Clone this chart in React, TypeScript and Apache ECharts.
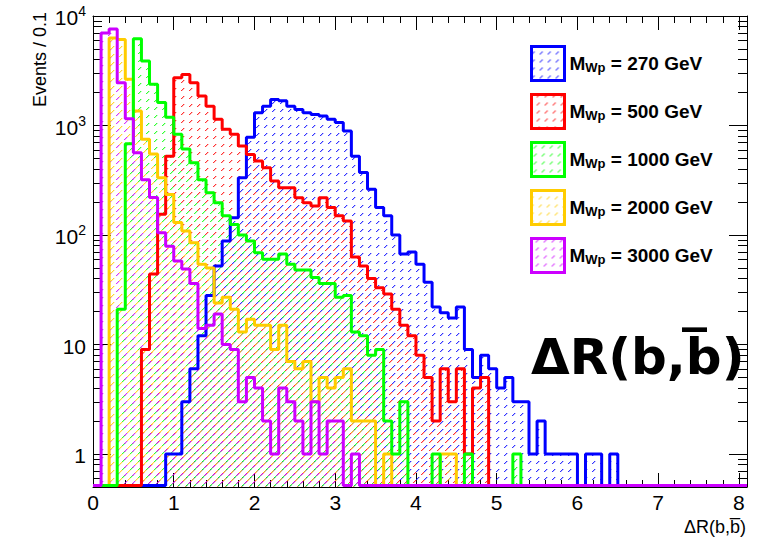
import React, { useEffect, useRef } from 'react';
import * as echarts from 'echarts';

// histogram binning
const BIN_WIDTH = 0.1;
const N_BINS = 81;
const Y_MIN = 0.5;
const Y_MAX = 10000;
const X_MAX = 8.1;

// legend / series labels (M_Wp in GeV)
const masses = ['270', '500', '1000', '2000', '3000'];
const colors = ['#0000ff', '#ff0000', '#00ff00', '#ffcc00', '#cc00ff'];

// events per 0.1 bin, starting at ΔR = 0
const bins270 = [0, 0, 0, 0, 0, 0, 0, 0, 0, 1, 1, 3, 6, 12, 28, 52, 88, 144, 334, 780,
  1310, 1500, 1730, 1680, 1500, 1400, 1310, 1260, 1220, 1140, 1065, 890, 525, 372, 262, 178, 150, 100, 67, 70,
  54, 37, 22, 19.5, 17.5, 22, 9, 5, 8, 6, 4, 5, 3, 3, 1, 2, 1, 1, 1, 1, 0, 1, 1, 0, 1];
const bins500 = [0, 0, 0, 0, 0, 0, 9, 44, 155, 525, 2735, 2930, 2460, 1860, 1500, 1140, 925, 830, 650, 545,
  474, 412, 311, 270, 270, 219, 197, 184, 219, 178, 150, 134, 63, 52, 40, 33, 29, 21, 15, 12,
  8, 5, 2, 6, 3, 6, 1, 4, 5];
const bins1000 = [0, 0, 0, 21, 680, 6200, 3880, 2380, 1620, 1190, 830, 610, 456, 320, 243, 197, 150, 125, 100, 88,
  69, 60, 60, 67, 54, 48, 48, 41, 36, 36, 27, 28, 13, 12, 8, 9, 2, 1, 3, 0,
  0, 0, 1, 0, 0, 0, 1, 0, 0, 0, 0, 0, 1];
const bins2000 = [0, 0, 6300, 6100, 2650, 1360, 750, 550, 334, 235, 130, 109, 85, 54, 50, 24, 27, 21, 13, 17,
  15, 15, 9, 15, 7, 6, 7, 3, 5, 4, 5, 6, 2, 2, 2, 0, 1, 0, 0, 0, 0, 0, 0, 1, 1];
const bins3000 = [0, 7000, 7600, 2460, 1150, 565, 320, 220, 105, 79, 58, 49, 36, 14, 15, 19, 10, 9, 3, 5,
  4, 2, 1, 4, 3, 2, 1, 3, 1, 2, 2, 0, 1];

const allBins = [bins270, bins500, bins1000, bins2000, bins3000];
// drawing order (last on top)
const drawOrder = [0, 1, 3, 2, 4];

const xTickLabels = ['0', '1', '2', '3', '4', '5', '6', '7', '8'];
const yMinorValues = [0.6, 0.7, 0.8, 0.9, 2, 3, 4, 5, 6, 7, 8, 9, 20, 30, 40, 50, 60, 70, 80, 90,
  200, 300, 400, 500, 600, 700, 800, 900, 2000, 3000, 4000, 5000, 6000, 7000, 8000, 9000];

function hexToRgb(hex: string) {
  const n = parseInt(hex.slice(1), 16);
  return [(n >> 16) & 255, (n >> 8) & 255, n & 255];
}

function makeHatch(color: string, shift: number) {
  const c = document.createElement('canvas');
  c.width = 8;
  c.height = 8;
  const ctx = c.getContext('2d')!;
  const [r, g, b] = hexToRgb(color);
  for (let k = 0; k < 8; k++) {
    if ((k + shift) % 8 >= 3) continue;
    ctx.fillStyle = `rgba(${r},${g},${b},0.8)`;
    ctx.fillRect(k, 7 - k, 1, 1);
    ctx.fillStyle = `rgba(${r},${g},${b},0.25)`;
    ctx.fillRect((k + 1) % 8, 7 - k, 1, 1);
  }
  return { image: c.toDataURL(), repeat: 'repeat', imageWidth: 8, imageHeight: 8 } as any;
}

function toSteps(vals: number[]) {
  const floor = Y_MIN * 1.033;
  const pts: [number, number][] = [];
  for (let i = 0; i < N_BINS; i++) {
    const v = i < vals.length ? vals[i] : 0;
    pts.push([+(i * BIN_WIDTH).toFixed(2), v > 0 ? v : floor]);
  }
  const last = pts[pts.length - 1][1];
  pts.push([+(N_BINS * BIN_WIDTH).toFixed(2), last]);
  return pts;
}

const TITLE = 'ΔR(b,b\u0305)';

export default function App() {
  const ref = useRef<HTMLDivElement>(null);
  useEffect(() => {
    if (!ref.current) return;
    const chart = echarts.init(ref.current, undefined, { renderer: 'svg' });
    const patterns = colors.map((c, i) => makeHatch(c, i * 3));
    const seriesName = (i: number) => `MWp = ${masses[i]} GeV`;

    const axisLine = { show: true, onZero: false, lineStyle: { color: '#000', width: 1 } };
    const labelFont = { fontFamily: 'Liberation Sans', color: '#000', fontSize: 21 };

    const xFormatter = (v: number) => {
      const r = Math.round(v);
      return Math.abs(v - r) < 1e-6 && xTickLabels[r] !== undefined ? xTickLabels[r] : '';
    };
    const yFormatter = (v: number) => {
      const l = Math.log10(v);
      const e = Math.round(l);
      if (Math.abs(l - e) > 1e-6) return '';
      if (e === 0) return '{b|1}';
      if (e === 1) return '{b|10}';
      return `{b|10}{s|${e}}`;
    };

    const xBase = {
      type: 'value', min: 0, max: X_MAX, interval: 1,
      axisLine, splitLine: { show: false },
      axisTick: { show: true, inside: true, length: 14, lineStyle: { color: '#000' } },
      minorTick: { show: true, splitNumber: 5, length: 7, lineStyle: { color: '#000' } },
    };
    const yMajor = {
      type: 'log', logBase: 10, min: Y_MIN, max: Y_MAX,
      axisLine, splitLine: { show: false },
      axisTick: { show: true, inside: true, length: 18, lineStyle: { color: '#000' } },
      minorTick: { show: false },
    };
    // minor decade ticks (2..9) on an axis of log10(value)
    const yMinor = {
      type: 'value', min: Math.log10(Y_MIN), max: Math.log10(Y_MAX),
      axisLine: { show: false, onZero: false }, splitLine: { show: false }, axisLabel: { show: false },
      axisTick: { show: true, inside: true, length: 9, lineStyle: { color: '#000' }, customValues: yMinorValues.map((v) => Math.log10(v)) },
    };

    chart.setOption({
      animation: false,
      backgroundColor: '#fff',
      grid: { left: 93, right: 16, top: 16, bottom: 53 },
      xAxis: [
        { ...xBase, position: 'bottom', axisLabel: { ...labelFont, margin: 5, formatter: xFormatter } },
        { ...xBase, position: 'top', axisLabel: { show: false } },
      ],
      yAxis: [
        {
          ...yMajor, position: 'left',
          axisLabel: {
            ...labelFont, margin: 7, formatter: yFormatter,
            rich: {
              b: { fontSize: 21, fontFamily: 'Liberation Sans', color: '#000', lineHeight: 24, verticalAlign: 'bottom' },
              s: { fontSize: 14, fontFamily: 'Liberation Sans', color: '#000', lineHeight: 14, verticalAlign: 'top' },
            },
          },
        },
        { ...yMajor, position: 'right', axisLabel: { show: false } },
        { ...yMinor, position: 'left' },
        { ...yMinor, position: 'right' },
      ],
      legend: {
        orient: 'vertical', left: 530, top: 45, padding: 0, itemWidth: 33, itemHeight: 34, itemGap: 11,
        icon: 'rect', selectedMode: false,
        data: masses.map((m, i) => ({
          name: seriesName(i), icon: 'rect',
          itemStyle: { color: patterns[i], borderColor: colors[i], borderWidth: 3 },
        })),
        formatter: (name: string) => {
          const m = name.match(/(\d+) GeV/);
          return `{m|M}{s|Wp}{m| = ${m ? m[1] : ''} GeV}`;
        },
        textStyle: {
          fontFamily: 'Liberation Sans', fontWeight: 'bold', fontSize: 19, color: '#000',
          rich: {
            m: { fontFamily: 'Liberation Sans', fontWeight: 'bold', fontSize: 19, color: '#000', lineHeight: 20, verticalAlign: 'top' },
            s: { fontFamily: 'Liberation Sans', fontWeight: 'bold', fontSize: 13, color: '#000', lineHeight: 13, verticalAlign: 'bottom', padding: [11, 0, 0, 0] },
          },
        },
      },
      series: drawOrder.map((i) => ({
        name: seriesName(i), type: 'line', step: 'end', symbol: 'none',
        xAxisIndex: 0, yAxisIndex: 0,
        data: toSteps(allBins[i]),
        lineStyle: { color: colors[i], width: 3 },
        itemStyle: { color: colors[i] },
        areaStyle: { origin: 'start', color: patterns[i], opacity: 1 },
        clip: true,
      })),
      graphic: [
        {
          type: 'text', x: 531, y: 357,
          style: { text: TITLE, font: 'bold 50px "DejaVu Sans"', fill: '#000', align: 'left', verticalAlign: 'middle' },
        },
        {
          type: 'text', x: 746, y: 527,
          style: { text: TITLE, font: '18px "Liberation Sans"', fill: '#000', align: 'right', verticalAlign: 'middle' },
        },
        {
          type: 'text', x: 40, y: 12, rotation: Math.PI / 2,
          style: { text: 'Events / 0.1', font: '18px "Liberation Sans"', fill: '#000', align: 'right', verticalAlign: 'middle' },
        },
      ],
    });
    return () => chart.dispose();
  }, []);
  return <div ref={ref} style={{ position: 'fixed', left: 0, top: 0, width: 763, height: 540, background: '#fff' }} />;
}
